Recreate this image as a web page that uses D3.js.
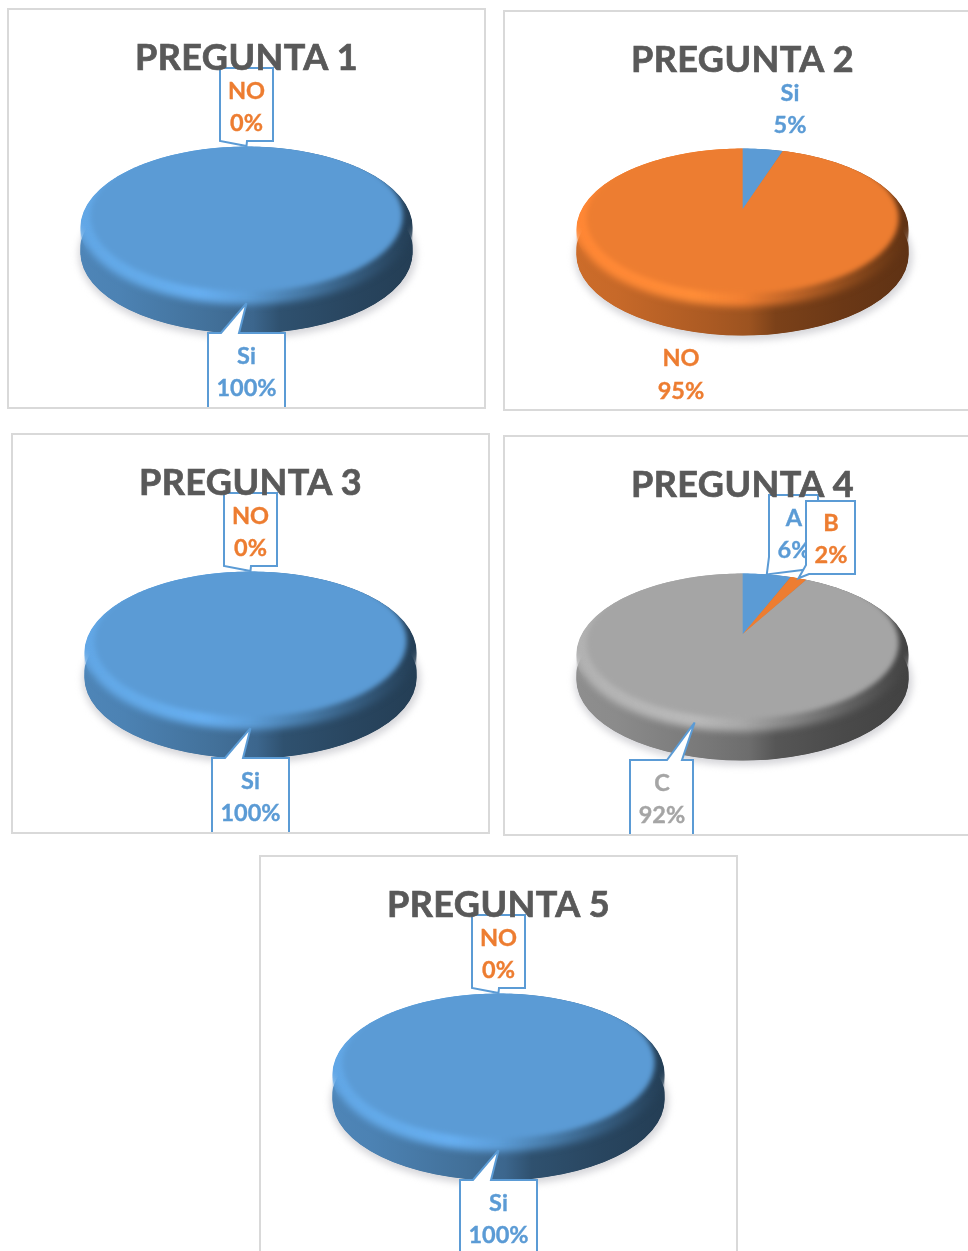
<!DOCTYPE html>
<html><head><meta charset="utf-8">
<script src="https://cdn.jsdelivr.net/npm/d3@7"></script>
<style>html,body{margin:0;padding:0;background:#fff;overflow:hidden}svg{display:block;filter:blur(.35px)}</style>
</head><body><svg id="c" width="968" height="1251"></svg>
<script>
// ---- data ----
const titles = ["PREGUNTA 1","PREGUNTA 2","PREGUNTA 3","PREGUNTA 4","PREGUNTA 5"];
const categoriesP1 = ["Si","NO"];      const valuesP1 = [100,0];
const categoriesP2 = ["Si","NO"];      const valuesP2 = [5,95];
const categoriesP3 = ["Si","NO"];      const valuesP3 = [100,0];
const categoriesP4 = ["A","B","C"];    const valuesP4 = [6,2,92];
const categoriesP5 = ["Si","NO"];      const valuesP5 = [100,0];
const seriesColors = ["#5b9bd5","#ed7d31","#a5a5a5"];

// ---- layout ----
const panelOrigins = [[8,9],[504,11],[12,434],[504,436],[260,856]];
const W=477,H=399,CX=238.5,APEX=198.5;
const B=161,A=76,K=0.247,DEPTH=25;      // perspective of the pie plane
const siNoBoxes = [
  {tipR:.96,cx:238.5,base:[355,387],box:[200,324,277,399],side:"top",p:[213,231]},
  {tipR:1.01,cx:238.5,base:[90,122],box:[212,59,265,132],side:"bottom",p:[212,239]}
];
const labelLayouts = [
  siNoBoxes,
  [{tipR:1,cx:286,base:[90,122]},{tipR:1,cx:177,base:[355,388]}],
  siNoBoxes,
  [{tipR:1,cx:290,base:[90,122],box:[265,59,314,132],side:"left",p:[121,314]},
   {tipR:1,cx:327,base:[95,127],box:[302,65,351,138],side:"left",p:[129,305]},
   {tipR:.93,cx:158,base:[355,387],box:[126,324,189,399],side:"top",p:[163,178]}],
  siNoBoxes
];
const allCats=[categoriesP1,categoriesP2,categoriesP3,categoriesP4,categoriesP5];
const allVals=[valuesP1,valuesP2,valuesP3,valuesP4,valuesP5];
const FONT="Lato, Carlito, sans-serif";

const project=(ang,r)=>{const x=Math.sin(ang)*r,y=-Math.cos(ang)*r,d=1-K*y;
  return [CX+B*x/d, APEX+A*y/d];};
const CYE=APEX+20, RX=B/Math.sqrt(1-K*K), RY=81;   // outer silhouette of the disc
const line=d3.line();
const arcPts=(a0,a1,r=1)=>{const n=Math.max(2,Math.ceil((a1-a0)/0.02));
  return d3.range(n+1).map(i=>project(a0+(a1-a0)*i/n,r));};
const wedge=s=>{const full=s.endAngle-s.startAngle>6.28;const pts=arcPts(s.startAngle,s.endAngle);
  return line(full?pts:[[CX,APEX],...pts])+"Z";};
const sidePath=s=>{const pts=arcPts(s.startAngle,s.endAngle);
  return line([...pts.map(p=>[p[0],p[1]-22]),...pts.slice().reverse().map(p=>[p[0],p[1]+DEPTH])])+"Z";};

const svg=d3.select("#c");
const defs=svg.append("defs");
const shade=(c,f)=>{const k=d3.color(c);return d3.rgb(Math.min(255,k.r*f),Math.min(255,k.g*f),Math.min(255,k.b*f)).formatHex();};
const sideStops=[[0,.86],[.12,.84],[.4,.72],[.52,.66],[.6,.52],[.8,.45],[1,.4]];
const rimStops=[[0,1.08],[.2,1.1],[.36,1.13],[.5,1.02],[.62,.85],[.8,.62],[.93,.47],[1,.4]];
seriesColors.forEach((c,i)=>{
  [["side",sideStops],["rim",rimStops]].forEach(([n,st])=>{
    const g=defs.append("linearGradient").attr("id",n+i).attr("gradientUnits","userSpaceOnUse")
      .attr("x1",CX-RX).attr("x2",CX+RX).attr("y1",0).attr("y2",0);
    st.forEach(([o,f])=>g.append("stop").attr("offset",o).attr("stop-color",shade(c,f)));
  });
});
const blur=(id,s)=>defs.append("filter").attr("id",id).attr("color-interpolation-filters","sRGB")
  .attr("x","-10%").attr("y","-20%").attr("width","120%").attr("height","140%")
  .append("feGaussianBlur").attr("stdDeviation",s);
blur("blurShadow",3.5); blur("blurRim",3.6); blur("blurFace",2.5);
const mask=defs.append("mask").attr("id","faceMask").attr("maskUnits","userSpaceOnUse")
  .attr("x",0).attr("y",0).attr("width",W).attr("height",H);
mask.append("ellipse").attr("cx",CX).attr("cy",207).attr("rx",RX-10).attr("ry",75.5)
  .attr("fill","#fff").attr("filter","url(#blurFace)");
// crisp upper rim fades out gradually towards the side wall
const fade=defs.append("linearGradient").attr("id","fadeGrad").attr("gradientUnits","userSpaceOnUse")
  .attr("x1",0).attr("x2",0).attr("y1",CYE-4).attr("y2",CYE+24);
fade.append("stop").attr("offset",0).attr("stop-color","#fff");
fade.append("stop").attr("offset",1).attr("stop-color","#000");
defs.append("mask").attr("id","upperFade").attr("maskUnits","userSpaceOnUse")
  .attr("x",0).attr("y",0).attr("width",W).attr("height",H)
  .append("rect").attr("width",W).attr("height",H).attr("fill","url(#fadeGrad)");
const clip=defs.append("clipPath").attr("id","disc");
clip.append("ellipse").attr("cx",CX).attr("cy",CYE).attr("rx",RX).attr("ry",RY);
clip.append("ellipse").attr("cx",CX).attr("cy",CYE+DEPTH).attr("rx",RX).attr("ry",RY);
clip.append("rect").attr("x",CX-RX).attr("y",CYE).attr("width",2*RX).attr("height",DEPTH);
defs.append("clipPath").attr("id","lower").append("rect").attr("x",0).attr("y",CYE).attr("width",W).attr("height",H);

const pie=d3.pie().sort(null).value(d=>d.v).startAngle(0).endAngle(2*Math.PI);

titles.forEach((title,pi)=>{
  const g=svg.append("g").attr("transform",`translate(${panelOrigins[pi]})`);
  const rows=allCats[pi].map((c,i)=>({c,v:allVals[pi][i],i}));
  const arcs=pie(rows);
  const visible=arcs.filter(a=>a.value>0);

  g.append("ellipse").attr("cx",CX+1).attr("cy",CYE+DEPTH+2).attr("rx",RX+3).attr("ry",RY+3)
    .attr("fill","#d6d6da").attr("filter","url(#blurShadow)");

  const disc=g.append("g").attr("clip-path","url(#disc)");
  // extruded side (front half only)
  disc.append("g").attr("clip-path","url(#lower)").selectAll("path").data(visible).join("path")
    .attr("d",sidePath).attr("fill",d=>`url(#side${d.data.i})`).attr("stroke",d=>`url(#side${d.data.i})`).attr("stroke-width",2);
  // bevel: crisp above, soft where it meets the side
  disc.append("g").attr("filter","url(#blurRim)").attr("transform","translate(0,-4)")
    .selectAll("path").data(visible).join("path").attr("d",wedge).attr("fill",d=>`url(#rim${d.data.i})`);
  disc.append("g").attr("mask","url(#upperFade)")
    .selectAll("path").data(visible).join("path").attr("d",wedge).attr("fill",d=>`url(#rim${d.data.i})`);
  // flat face
  g.append("g").attr("mask","url(#faceMask)")
    .selectAll("path").data(visible).join("path").attr("d",wedge).attr("fill",d=>seriesColors[d.data.i]);

  // data labels, with callouts where the reference has them
  arcs.forEach((a,i)=>{
    const L=labelLayouts[pi][i];
    if(L.box){
      const mid=(a.startAngle+a.endAngle)/2, tip=project(mid,L.tipR);
      const [x0,y0,x1,y1]=L.box; let pts;
      if(L.side==="top") pts=[[x0,y0],[L.p[0],y0],tip,[L.p[1],y0],[x1,y0],[x1,y1],[x0,y1]];
      else if(L.side==="bottom") pts=[[x0,y0],[x1,y0],[x1,y1],[L.p[1],y1],tip,[L.p[0],y1]];
      else pts=[[x0,y0],[x1,y0],[x1,y1],[L.p[1],y1],tip,[x0,L.p[0]]];
      g.append("path").attr("d",line(pts)+"Z").attr("fill","#fff")
        .attr("stroke","#5b9bd5").attr("stroke-width",2).attr("stroke-linejoin","miter");
    }
    const col=seriesColors[a.data.i];
    [a.data.c, d3.format(".0f")(a.value)+"%"].forEach((t,k)=>{
      g.append("text").attr("x",L.cx).attr("y",L.base[k]).attr("text-anchor","middle")
        .attr("font-family",FONT).attr("font-weight",700).attr("font-size",23.5).attr("fill",col)
        .attr("stroke",col).attr("stroke-width",.35).text(t);
    });
  });

  g.append("rect").attr("width",W).attr("height",H).attr("fill","none").attr("stroke","#d9d9d9").attr("stroke-width",2);
  g.append("text").attr("x",CX).attr("y",61).attr("text-anchor","middle")
    .attr("font-family",FONT).attr("font-weight",700).attr("font-size",36).attr("letter-spacing",.45)
    .attr("fill","#595959").attr("stroke","#595959").attr("stroke-width",.7).text(title);
});
</script></body></html>
